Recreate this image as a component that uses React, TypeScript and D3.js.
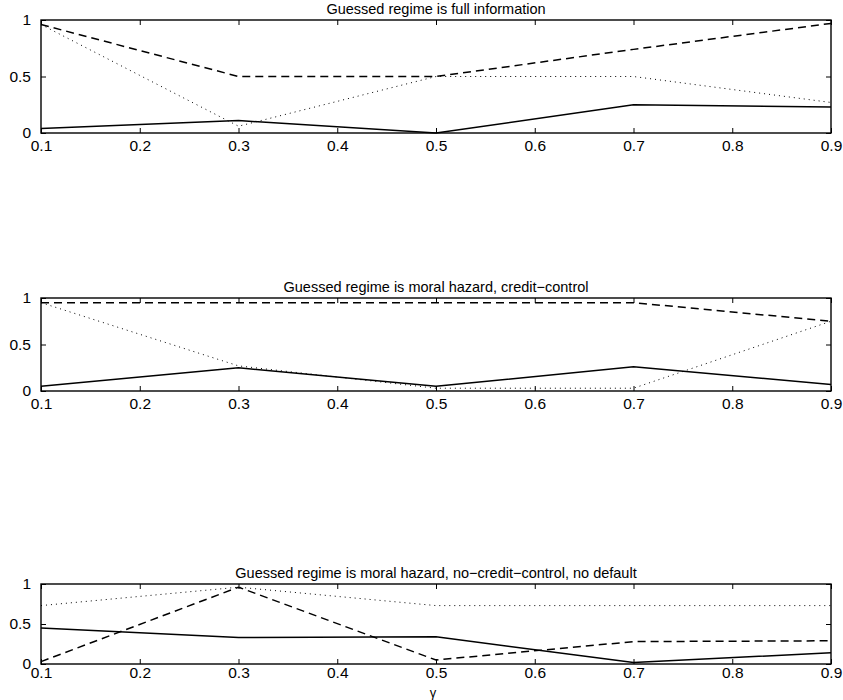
import React, { useEffect, useRef } from 'react';
import * as d3 from 'd3';

const gammas = [0.1, 0.3, 0.5, 0.7, 0.9];
const xTicks = [0.1, 0.2, 0.3, 0.4, 0.5, 0.6, 0.7, 0.8, 0.9];
const yTicks = [0, 0.5, 1];

const titles = [
  'Guessed regime is full information',
  'Guessed regime is moral hazard, credit\u2212control',
  'Guessed regime is moral hazard, no\u2212credit\u2212control, no default',
];

// solid, dashed, dotted per panel
const fullSolid = [0.04, 0.11, 0.0, 0.25, 0.23];
const fullDashed = [0.96, 0.5, 0.5, 0.74, 0.97];
const fullDotted = [0.96, 0.06, 0.5, 0.5, 0.27];

const ccSolid = [0.05, 0.25, 0.05, 0.26, 0.07];
const ccDashed = [0.95, 0.95, 0.95, 0.95, 0.75];
const ccDotted = [0.95, 0.27, 0.03, 0.03, 0.75];

const nccSolid = [0.45, 0.33, 0.34, 0.02, 0.14];
const nccDashed = [0.03, 0.96, 0.05, 0.28, 0.29];
const nccDotted = [0.73, 0.96, 0.73, 0.73, 0.73];

const panels = [
  [fullSolid, fullDashed, fullDotted],
  [ccSolid, ccDashed, ccDotted],
  [nccSolid, nccDashed, nccDotted],
];

const width = 843;
const height = 700;
const left = 41;
const right = 831;
const panelBox = [[20, 133], [298, 391], [584, 664]];
const labelPad = [7, 7, 3];

export default function App() {
  const ref = useRef(null);

  useEffect(() => {
    const svg = d3.select(ref.current);
    svg.selectAll('*').remove();

    const x = d3.scaleLinear().domain([0.1, 0.9]).range([left, right]);
    const dashes = [null, '8,5', '1,4'];
    const font = 'Liberation Sans, Arial, Helvetica, sans-serif';

    panels.forEach((series, p) => {
      const [top, bottom] = panelBox[p];
      const y = d3.scaleLinear().domain([0, 1]).range([bottom, top]);
      const g = svg.append('g');

      g.append('text')
        .attr('x', (left + right) / 2)
        .attr('y', top - 6)
        .attr('text-anchor', 'middle')
        .attr('font-family', font)
        .attr('font-size', 14.5)
        .text(titles[p]);

      const line = d3.line<number>()
        .x((d, i) => x(gammas[i]))
        .y(d => y(d));

      series.forEach((vals, s) => {
        g.append('path')
          .attr('d', line(vals))
          .attr('fill', 'none')
          .attr('stroke', '#000')
          .attr('stroke-width', s === 2 ? 1 : 1.5)
          .attr('stroke-dasharray', dashes[s]);
      });

      // box
      g.append('rect')
        .attr('x', left)
        .attr('y', top)
        .attr('width', right - left)
        .attr('height', bottom - top)
        .attr('fill', 'none')
        .attr('stroke', '#000')
        .attr('stroke-width', 1.4);

      const bottomAxis = d3.axisBottom(x).tickValues(xTicks).tickSize(-5).tickPadding(labelPad[p]).tickFormat(d3.format('.1f'));
      const topAxis = d3.axisTop(x).tickValues(xTicks).tickSize(-5).tickFormat(() => '');
      const leftAxis = d3.axisLeft(y).tickValues(yTicks).tickSize(-5).tickPadding(10).tickFormat(d => (d === 0 ? '0' : d === 1 ? '1' : '0.5'));
      const rightAxis = d3.axisRight(y).tickValues(yTicks).tickSize(-5).tickFormat(() => '');

      const axes = [
        g.append('g').attr('transform', `translate(0,${bottom})`).call(bottomAxis),
        g.append('g').attr('transform', `translate(0,${top})`).call(topAxis),
        g.append('g').attr('transform', `translate(${left},0)`).call(leftAxis),
        g.append('g').attr('transform', `translate(${right},0)`).call(rightAxis),
      ];
      axes.forEach(a => {
        a.select('.domain').remove();
        a.selectAll('line').attr('stroke', '#000');
        a.selectAll('text').attr('font-family', font).attr('font-size', 15.5).attr('fill', '#000');
      });
    });

    svg.append('text')
      .attr('x', (left + right) / 2 - 3)
      .attr('y', height - 3)
      .attr('text-anchor', 'middle')
      .attr('font-family', font)
      .attr('font-size', 13)
      .text('\u03b3');
  }, []);

  return (
    <svg
      ref={ref}
      width={width}
      height={height}
      style={{ position: 'absolute', left: 0, top: 0, background: '#fff' }}
    />
  );
}
